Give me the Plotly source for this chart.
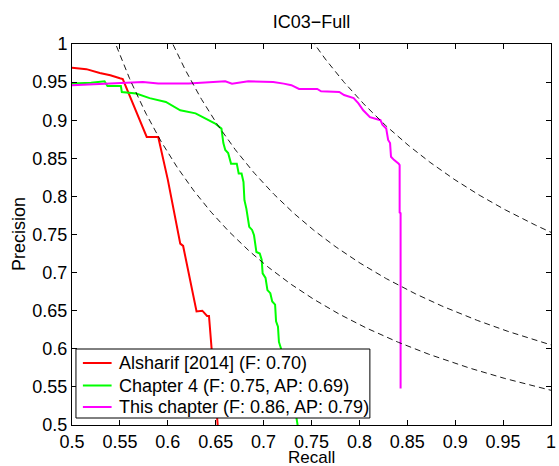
import numpy as np
import plotly.graph_objects as go

# Precision/recall curves on IC03-Full
alsharif_recall = [0.500, 0.515, 0.529, 0.540, 0.550, 0.553, 0.578, 0.590, 0.600, 0.613,
                   0.616, 0.630, 0.636, 0.641, 0.643, 0.646, 0.652, 0.654]
alsharif_precision = [0.969, 0.967, 0.962, 0.959, 0.955, 0.954, 0.878, 0.878, 0.822, 0.738,
                      0.735, 0.649, 0.650, 0.643, 0.643, 0.598, 0.500, 0.470]

ch4_recall = [0.500, 0.520, 0.534, 0.537, 0.551, 0.552, 0.567, 0.581, 0.598, 0.613,
              0.629, 0.639, 0.649, 0.656, 0.658, 0.660, 0.663, 0.666, 0.672, 0.674,
              0.677, 0.679, 0.680, 0.682, 0.685, 0.688, 0.690, 0.6925, 0.696, 0.698,
              0.699, 0.702, 0.704, 0.707, 0.709, 0.712, 0.713, 0.715, 0.716, 0.718,
              0.725, 0.733, 0.736, 0.738]
ch4_precision = [0.948, 0.949, 0.951, 0.945, 0.945, 0.937, 0.935, 0.929, 0.924, 0.913,
                 0.909, 0.902, 0.896, 0.889, 0.870, 0.861, 0.857, 0.843, 0.843, 0.830,
                 0.830, 0.819, 0.795, 0.784, 0.760, 0.756, 0.749, 0.727, 0.725, 0.717,
                 0.699, 0.693, 0.677, 0.673, 0.662, 0.658, 0.636, 0.629, 0.609, 0.601,
                 0.560, 0.520, 0.500, 0.480]

this_recall = [0.500, 0.520, 0.544, 0.574, 0.590, 0.622, 0.660, 0.667, 0.684, 0.710,
               0.721, 0.729, 0.737, 0.756, 0.760, 0.779, 0.784, 0.794, 0.799, 0.804,
               0.811, 0.822, 0.824, 0.828, 0.830, 0.832, 0.833, 0.836, 0.841, 0.842,
               0.842, 0.843, 0.843]
this_precision = [0.946, 0.947, 0.949, 0.950, 0.948, 0.948, 0.951, 0.948, 0.951, 0.950,
                  0.948, 0.946, 0.941, 0.941, 0.938, 0.937, 0.933, 0.929, 0.922, 0.913,
                  0.904, 0.900, 0.894, 0.889, 0.874, 0.870, 0.852, 0.848, 0.843, 0.841,
                  0.779, 0.778, 0.548]

series_names = ["Alsharif [2014] (F: 0.70)",
                "Chapter 4 (F: 0.75, AP: 0.69)",
                "This chapter (F: 0.86, AP: 0.79)"]
series_colors = ["#ff0000", "#00ff00", "#ff00ff"]

# iso-F reference levels
f_levels = [0.706, 0.754, 0.859]

tick_vals = [0.5, 0.55, 0.6, 0.65, 0.7, 0.75, 0.8, 0.85, 0.9, 0.95, 1.0]
tick_text = ["0.5", "0.55", "0.6", "0.65", "0.7", "0.75", "0.8", "0.85", "0.9", "0.95", "1"]

FONT = "Liberation Sans, Arial, Helvetica, sans-serif"
W, H = 559, 466
ML, MR, MT, MB = 72, 3, 44, 41
PW, PH = W - ML - MR, H - MT - MB


def px_x(px):
    """pixel column -> paper x"""
    return (px - ML) / PW


def px_y(py):
    """pixel row -> paper y"""
    return (H - MB - py) / PH


fig = go.Figure()

for xs, ys, name, color in zip(
        [alsharif_recall, ch4_recall, this_recall],
        [alsharif_precision, ch4_precision, this_precision],
        series_names, series_colors):
    fig.add_trace(go.Scatter(x=xs, y=ys, mode="lines", name=name, showlegend=False,
                             line=dict(color=color, width=2)))

r = np.linspace(0.5, 1.0, 400)
for f in f_levels:
    p = f * r / (2 * r - f)
    p = np.where((p > 0) & (p <= 1.05), p, np.nan)
    fig.add_trace(go.Scatter(x=r, y=p, mode="lines", showlegend=False,
                             line=dict(color="black", width=0.9, dash="6px,4px"),
                             hoverinfo="skip"))

axis_common = dict(
    range=[0.5, 1.0], tickvals=tick_vals, ticktext=tick_text,
    ticks="inside", ticklen=5, tickcolor="black", tickwidth=1,
    showline=True, linecolor="black", linewidth=1, mirror="ticks",
    showgrid=False, zeroline=False,
    tickfont=dict(family=FONT, size=18, color="black"),
)

# boxed legend in the lower-left corner of the axes
shapes = [dict(type="rect", xref="paper", yref="paper",
               x0=px_x(76), x1=px_x(373), y0=px_y(418), y1=px_y(349),
               fillcolor="white", line=dict(color="black", width=1), layer="above")]
annotations = []
row_y = [363, 385.5, 407]
for ry, name, color in zip(row_y, series_names, series_colors):
    shapes.append(dict(type="line", xref="paper", yref="paper",
                       x0=px_x(83), x1=px_x(112), y0=px_y(ry), y1=px_y(ry),
                       line=dict(color=color, width=2), layer="above"))
    annotations.append(dict(text=name, x=px_x(117), y=px_y(ry), xref="paper", yref="paper",
                            xanchor="left", yanchor="middle", showarrow=False,
                            font=dict(family=FONT, size=18, color="black")))

annotations += [
    dict(text="Recall", x=0.5, y=0, xref="paper", yref="paper",
         xanchor="center", yanchor="middle", yshift=-32, showarrow=False,
         font=dict(family=FONT, size=17, color="black")),
    dict(text="Precision", x=0, y=0.5, xref="paper", yref="paper",
         xanchor="center", yanchor="middle", xshift=-53.5, textangle=-90,
         showarrow=False, font=dict(family=FONT, size=18, color="black")),
]

fig.update_layout(
    width=W, height=H,
    margin=dict(l=ML, r=MR, t=MT, b=MB),
    paper_bgcolor="white", plot_bgcolor="white",
    font=dict(family=FONT, size=18, color="black"),
    xaxis=dict(axis_common, ticklabeloverflow="allow"),
    yaxis=axis_common,
    showlegend=False,
    title=dict(text="IC03\u2212Full", x=0.5, xref="paper", xanchor="center",
               y=1 - 21.5 / H, yref="container", yanchor="middle",
               font=dict(family=FONT, size=18, color="black")),
    shapes=shapes,
    annotations=annotations,
)

fig.write_html("out.html")
